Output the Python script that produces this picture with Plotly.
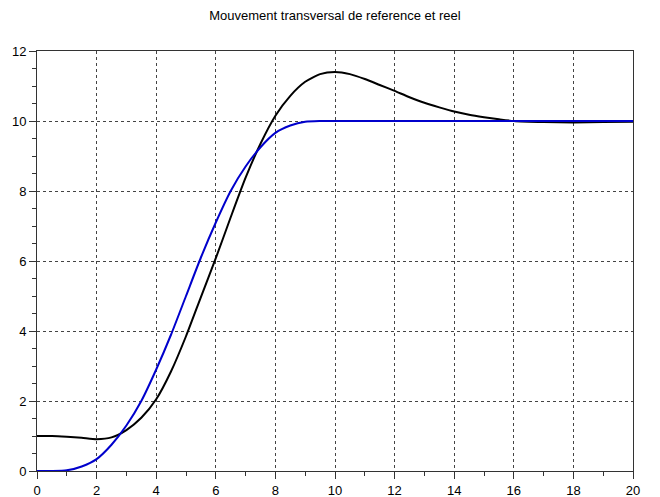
import plotly.graph_objects as go

# time samples (s)
t = [0, 0.5, 1, 1.5, 2, 2.5, 3, 3.5, 4, 4.5, 5, 5.5, 6, 6.5, 7, 7.5, 8, 8.5, 9, 9.5,
     10, 10.5, 11, 11.5, 12, 12.5, 13, 13.5, 14, 14.5, 15, 15.5, 16, 17, 18, 19, 20]

# reference trajectory (blue)
ref = [0, 0, 0.02, 0.13, 0.34, 0.75, 1.3, 2.0, 2.9, 3.9, 5.0, 6.1, 7.1, 8.0, 8.7,
       9.25, 9.66, 9.87, 9.98, 10.0,
       10, 10, 10, 10, 10, 10, 10, 10, 10, 10, 10, 10, 10, 10, 10, 10, 10]

# real trajectory (black)
real = [1.0, 1.0, 0.98, 0.95, 0.91, 0.96, 1.17, 1.52, 2.05, 2.85, 3.85, 4.97, 6.08,
        7.25, 8.38, 9.35, 10.15, 10.72, 11.12, 11.34,
        11.4, 11.34, 11.2, 11.03, 10.86, 10.68, 10.52, 10.39, 10.27, 10.18, 10.11,
        10.05, 10.0, 9.97, 9.96, 9.97, 9.98]

x_ticks = [0, 2, 4, 6, 8, 10, 12, 14, 16, 18, 20]
y_ticks = [0, 2, 4, 6, 8, 10, 12]

fig = go.Figure()
fig.add_trace(go.Scatter(x=t, y=real, mode="lines",
                         line=dict(color="black", width=2, shape="spline", smoothing=0.6),
                         showlegend=False))
fig.add_trace(go.Scatter(x=t, y=ref, mode="lines",
                         line=dict(color="#0000cc", width=2, shape="spline", smoothing=0.6),
                         showlegend=False))

axis_common = dict(
    showline=True, linecolor="#333", linewidth=1, mirror=True,
    showgrid=True, gridcolor="#444", gridwidth=1, griddash="3px,3px",
    zeroline=False, ticks="outside", ticklen=7, tickcolor="#333",
    automargin=False,
    tickfont=dict(family="Liberation Sans, Arial, sans-serif", size=13, color="black"),
)

fig.update_xaxes(range=[0, 20], tickvals=x_ticks, ticktext=[str(v) for v in x_ticks],
                 minor=dict(dtick=1, ticks="outside", ticklen=4, tickcolor="#333", showgrid=False),
                 **axis_common)
fig.update_yaxes(range=[0, 12], tickvals=y_ticks, ticktext=[str(v) for v in y_ticks],
                 minor=dict(dtick=0.5, ticks="outside", ticklen=4, tickcolor="#333", showgrid=False),
                 **axis_common)

fig.update_layout(
    width=660, height=497,
    margin=dict(l=37, r=27, t=51, b=26),
    paper_bgcolor="white", plot_bgcolor="white",
    title=dict(text="Mouvement transversal de reference et reel", x=0.5, xref="paper",
               y=1 - 15 / 497, yanchor="middle", automargin=False,
               font=dict(family="Liberation Sans, Arial, sans-serif", size=13, color="black")),
)

fig.write_html("out.html")
